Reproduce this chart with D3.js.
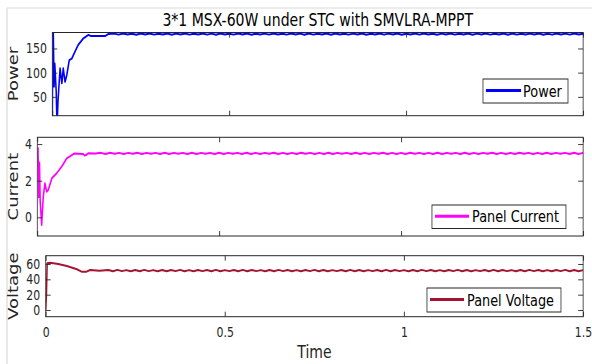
<!DOCTYPE html>
<html>
<head>
<meta charset="utf-8">
<script src="https://cdn.jsdelivr.net/npm/d3@7"></script>
<style>
  html, body { margin: 0; padding: 0; background: #fff; }
  svg { display: block; font-family: "DejaVu Sans", sans-serif; }
</style>
</head>
<body>
<svg id="fig" width="592" height="364"></svg>
<script>
// ---- data -------------------------------------------------------------
const xTickValues = [0, 0.5, 1, 1.5];
const xTickLabels = ["0", "0.5", "1", "1.5"];

const powerTicks = [50, 100, 150];
const currentTicks = [0, 2, 4];
const voltageTicks = [0, 20, 40, 60];

// start-up transient (time in s)
const powerTime  = [0, 0.002, 0.005, 0.007, 0.011, 0.0135, 0.016, 0.022, 0.027, 0.031, 0.036, 0.041, 0.048, 0.055, 0.064, 0.073, 0.088, 0.102, 0.108, 0.150, 0.158];
const powerValue = [0, 226, 71, 119, 62, -15, 40, 109, 78, 109, 81, 95, 126, 129, 143, 157, 171, 178, 176, 176, 179.8];

const currentTime  = [0, 0.002, 0.004, 0.006, 0.008, 0.012, 0.0165, 0.021, 0.026, 0.030, 0.040, 0.053, 0.067, 0.081, 0.095, 0.102, 0.126, 0.130, 0.134, 0.140, 0.160];
const currentValue = [3.8, 3.78, 1.1, 3.0, 0.9, -0.42, 1.13, 1.86, 1.4, 1.49, 2.13, 2.4, 2.77, 3.22, 3.4, 3.49, 3.46, 3.38, 3.4, 3.5, 3.49];

const voltageTime  = [0, 0.002, 0.004, 0.012, 0.035, 0.059, 0.087, 0.100, 0.114, 0.124, 0.150];
const voltageValue = [0, 20, 61, 61.7, 60, 57.4, 53.1, 50, 50, 52.2, 51.3];

// steady-state MPPT ripple, sampled every 12.5 ms from 0.175 s to 1.5 s
const steadyStart = 0.175, steadyStep = 0.0125;
const powerSteady = [
  180.7,178.6,180.9,178.8,180.5,178.5,180.8,178.7,181.0,178.6,180.6,178.9,180.8,178.5,180.7,178.7,180.9,178.6,180.5,178.8,
  180.8,178.6,180.7,178.5,180.9,178.8,180.6,178.6,180.8,178.7,181.0,178.5,180.6,178.8,180.7,178.6,180.9,178.7,180.5,178.6,
  180.8,178.8,180.7,178.5,180.9,178.6,180.6,178.7,180.8,178.5,181.0,178.8,180.6,178.6,180.7,178.7,180.9,178.5,180.5,178.8,
  180.8,178.6,180.7,178.7,180.9,178.5,180.6,178.8,180.8,178.6,181.0,178.7,180.6,178.5,180.7,178.8,180.9,178.6,180.5,178.7,
  180.8,178.5,180.7,178.8,180.9,178.6,180.6,178.7,180.8,178.5,181.0,178.6,180.6,178.8,180.7,178.7,180.9,178.5,180.5,178.6,
  180.8,178.7,180.7,178.6,180.9,178.8,180.6];
const currentSteady = [
  3.52,3.46,3.53,3.47,3.52,3.46,3.52,3.47,3.53,3.46,3.52,3.47,3.52,3.46,3.53,3.46,3.52,3.47,3.52,3.46,
  3.53,3.46,3.52,3.47,3.52,3.46,3.53,3.46,3.52,3.47,3.52,3.46,3.53,3.46,3.52,3.46,3.52,3.47,3.53,3.46,
  3.52,3.46,3.52,3.46,3.53,3.47,3.52,3.46,3.52,3.46,3.53,3.46,3.52,3.47,3.52,3.46,3.53,3.46,3.52,3.46,
  3.52,3.47,3.53,3.46,3.52,3.46,3.52,3.46,3.53,3.47,3.52,3.46,3.52,3.46,3.53,3.46,3.52,3.47,3.52,3.46,
  3.53,3.46,3.52,3.46,3.52,3.47,3.53,3.46,3.52,3.46,3.52,3.46,3.53,3.47,3.52,3.46,3.52,3.46,3.53,3.46,
  3.52,3.47,3.52,3.46,3.53,3.46,3.52];
const voltageSteady = [
  52.1,50.6,52.3,50.7,52.0,50.5,52.2,50.6,52.3,50.7,52.0,50.6,52.2,50.5,52.1,50.7,52.3,50.6,52.0,50.5,
  52.2,50.7,52.1,50.6,52.3,50.5,52.0,50.7,52.2,50.6,52.3,50.5,52.1,50.7,52.0,50.6,52.2,50.5,52.3,50.7,
  52.1,50.6,52.0,50.5,52.2,50.7,52.3,50.6,52.1,50.5,52.0,50.7,52.2,50.6,52.3,50.5,52.1,50.6,52.0,50.7,
  52.2,50.5,52.3,50.6,52.1,50.7,52.0,50.6,52.2,50.5,52.3,50.7,52.1,50.6,52.0,50.5,52.2,50.7,52.3,50.6,
  52.1,50.5,52.0,50.7,52.2,50.6,52.3,50.5,52.1,50.7,52.0,50.6,52.2,50.5,52.3,50.7,52.1,50.6,52.0,50.5,
  52.2,50.7,52.3,50.6,52.1,50.5,52.0];

function series(times, values, steady) {
  const pts = times.map((t, i) => [t, values[i]]);
  steady.forEach((v, i) => pts.push([steadyStart + i * steadyStep, v]));
  return pts;
}

// ---- layout -----------------------------------------------------------
const K = 0.78;               // horizontal squeeze of the whole figure
const svg = d3.select("#fig");
const root = svg.append("g").attr("transform", `scale(${K},1)`);

const RIGHT = 747.6;
const INK = "#262626";

// figure frame edges
root.append("line").attr("x1", 9).attr("x2", 9).attr("y1", 8).attr("y2", 364)
  .attr("stroke", "#d9d9d9").attr("stroke-width", 1.5);
root.append("line").attr("x1", 9).attr("x2", 760).attr("y1", 8).attr("y2", 8)
  .attr("stroke", "#d9d9d9").attr("stroke-width", 1.2);

const panels = [
  { id: "p", left: 67.05, top: 32.5, bottom: 115.7, domain: [11, 183], ticks: powerTicks,
    label: "Power", data: series(powerTime, powerValue, powerSteady), color: "#0000ff",
    legend: { x: 619.2, y: 79, w: 109, h: 24, l1: 623, l2: 668, tx: 670.5, ty: 97.5, text: "Power" } },
  { id: "c", left: 47.8, top: 137.3, bottom: 236, domain: [-1.02, 4.37], ticks: currentTicks,
    label: "Current", data: series(currentTime, currentValue, currentSteady), color: "#ff00ff",
    legend: { x: 553.8, y: 205, w: 171.8, h: 23.5, l1: 557.7, l2: 601.3, tx: 605.1, ty: 222.5, text: "Panel Current" } },
  { id: "v", left: 58.6, top: 255.7, bottom: 316.7, domain: [-8.7, 70.8], ticks: voltageTicks,
    label: "Voltage", data: series(voltageTime, voltageValue, voltageSteady), color: "#a2142f",
    legend: { x: 547.4, y: 288, w: 171.8, h: 24, l1: 551.3, l2: 594.9, tx: 598.7, ty: 306, text: "Panel Voltage" } }
];

const TICK = 6.4;

panels.forEach((P, idx) => {
  const x = d3.scaleLinear().domain([0, 1.5]).range([P.left, RIGHT]);
  const y = d3.scaleLinear().domain(P.domain).range([P.bottom, P.top]);
  const g = root.append("g");

  g.append("clipPath").attr("id", "clip-" + P.id)
    .append("rect").attr("x", P.left).attr("y", P.top)
    .attr("width", RIGHT - P.left).attr("height", P.bottom - P.top);

  g.append("rect").attr("x", P.left).attr("y", P.top)
    .attr("width", RIGHT - P.left).attr("height", P.bottom - P.top)
    .attr("fill", "#fff");

  g.append("path")
    .datum(P.data)
    .attr("clip-path", `url(#clip-${P.id})`)
    .attr("fill", "none")
    .attr("stroke", P.color)
    .attr("stroke-width", 2)
    .attr("stroke-linejoin", "round")
    .attr("d", d3.line().x(d => x(d[0])).y(d => y(d[1])));

  // y axes (left labelled, right ticks only), ticks pointing inward
  const yl = g.append("g").attr("transform", `translate(${P.left},0)`)
    .call(d3.axisLeft(y).tickValues(P.ticks).tickSize(-TICK).tickPadding(7).tickFormat(d3.format("d")));
  const yr = g.append("g").attr("transform", `translate(${RIGHT},0)`)
    .call(d3.axisRight(y).tickValues(P.ticks).tickSize(-TICK).tickFormat(""));
  // x axes (bottom and top), ticks pointing inward
  const isLast = idx === panels.length - 1;
  const xb = g.append("g").attr("transform", `translate(0,${P.bottom})`)
    .call(d3.axisBottom(x).tickValues(xTickValues).tickSize(-5).tickPadding(10)
      .tickFormat((d, i) => isLast ? xTickLabels[i] : ""));
  const xt = g.append("g").attr("transform", `translate(0,${P.top})`)
    .call(d3.axisTop(x).tickValues(xTickValues).tickSize(-5).tickFormat(""));

  [yl, yr, xb, xt].forEach(a => {
    a.select(".domain").remove();
    a.selectAll(".tick line").attr("stroke", INK).attr("stroke-width", 1);
    a.selectAll(".tick text").attr("fill", INK).style("font-size", "14px")
      .style("font-family", "'DejaVu Sans', sans-serif");
  });
  xb.selectAll(".tick text").attr("dy", "0.71em");

  g.append("rect").attr("x", P.left).attr("y", P.top)
    .attr("width", RIGHT - P.left).attr("height", P.bottom - P.top)
    .attr("fill", "none").attr("stroke", INK).attr("stroke-width", 1);

  // y label
  g.append("text")
    .attr("transform", `translate(23,${(P.top + P.bottom) / 2}) rotate(-90)`)
    .attr("text-anchor", "middle")
    .attr("fill", INK)
    .style("font-size", "18px")
    .text(P.label);

  // legend
  const L = P.legend;
  const lg = g.append("g");
  lg.append("rect").attr("x", L.x).attr("y", L.y).attr("width", L.w).attr("height", L.h)
    .attr("fill", "#fff").attr("stroke", INK).attr("stroke-width", 1);
  lg.append("line").attr("x1", L.l1).attr("x2", L.l2)
    .attr("y1", L.y + L.h / 2 - 0.5).attr("y2", L.y + L.h / 2 - 0.5)
    .attr("stroke", P.color).attr("stroke-width", 3);
  lg.append("text").attr("x", L.tx).attr("y", L.ty)
    .attr("fill", "#000").style("font-size", "16.5px").text(L.text);
});

// title and x label
root.append("text")
  .attr("x", (67.05 + RIGHT) / 2).attr("y", 26.5)
  .attr("text-anchor", "middle").attr("fill", "#000")
  .style("font-size", "18px")
  .text("3*1 MSX-60W under STC with SMVLRA-MPPT");

root.append("text")
  .attr("x", (58.6 + RIGHT) / 2).attr("y", 358)
  .attr("text-anchor", "middle").attr("fill", INK)
  .style("font-size", "18px")
  .text("Time");
</script>
</body>
</html>
